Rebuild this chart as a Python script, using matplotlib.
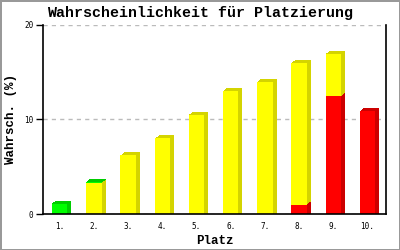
import matplotlib
matplotlib.use("Agg")
import matplotlib.pyplot as plt
import matplotlib.transforms as mtransforms
import numpy as np

# Platz 1..10, gestapelt: rot (unten), gelb, grün (oben)
plaetze = ['1.', '2.', '3.', '4.', '5.', '6.', '7.', '8.', '9.', '10.']
rot = [0, 0, 0, 0, 0, 0, 0, 1.0, 12.5, 10.9]
gelb = [0, 3.3, 6.2, 8.0, 10.5, 13.05, 14.0, 15.0, 4.45, 0]
gruen = [1.1, 0.12, 0, 0, 0, 0, 0, 0, 0, 0]

farben = [('#ff0000', '#cc0000'), ('#ffff00', '#d4d400'), ('#00ff00', '#00cc00')]

fig = plt.figure(figsize=(4, 2.5), dpi=100)
fig.patch.set_facecolor('white')
fig.patch.set_edgecolor('#999999')
fig.patch.set_linewidth(2)
ax = fig.add_axes([0.1075, 0.144, 0.8575, 0.756])

x = np.arange(1, 11)
breite = 0.45

# 3D-Effekt: Segment schräg nach hinten extrudieren (4 px rechts, 3 px hoch)
unten = np.zeros(10)
for werte, (vorne, seite) in zip([rot, gelb, gruen], farben):
    werte = np.array(werte)
    sel = werte > 0
    start = np.where(unten == 0, unten - 1, unten)
    for k in np.arange(0.5, 4.01, 0.5):
        tiefe = mtransforms.ScaledTranslation(k / 100, 0.75 * k / 100, fig.dpi_scale_trans)
        ax.bar(x[sel], (unten + werte - start)[sel], breite, bottom=start[sel], color=seite,
               transform=ax.transData + tiefe, zorder=2, linewidth=0, antialiased=False)
    ax.bar(x[sel], werte[sel], breite, bottom=unten[sel], color=vorne,
           zorder=2, linewidth=0, antialiased=False)
    unten = unten + werte

ax.set_xlim(0.512, 10.54)
ax.set_ylim(0, 20)
ax.set_yticks([0, 10, 20])
ax.set_xticks(x)
ax.set_xticklabels(plaetze)
ax.tick_params(axis='x', length=0, pad=6)
ax.tick_params(axis='y', length=5, width=1, direction='out', pad=2)
for lab in ax.get_xticklabels() + ax.get_yticklabels():
    lab.set_fontfamily('DejaVu Sans Mono')
    lab.set_fontsize(5.5)

ax.yaxis.grid(True, linestyle=(0, (3, 3)), color='#bbbbbb', linewidth=1)
ax.set_axisbelow(True)
ax.spines['top'].set_visible(False)
for s in ['left', 'bottom', 'right']:
    ax.spines[s].set_linewidth(1.2)
    ax.spines[s].set_color('black')
    ax.spines[s].set_zorder(3)

fig.text(0.5, 0.948, 'Wahrscheinlichkeit für Platzierung', ha='center', va='center',
         fontfamily='Liberation Mono', fontweight='bold', fontsize=10.8)
ax.set_xlabel('Platz', fontfamily='Liberation Mono', fontweight='bold', fontsize=9, labelpad=3)
ax.set_ylabel('Wahrsch. (%)', fontfamily='Liberation Mono', fontweight='bold', fontsize=9)
ax.yaxis.set_label_coords(-0.076, 0.5)

fig.savefig('out.png', dpi=100)
